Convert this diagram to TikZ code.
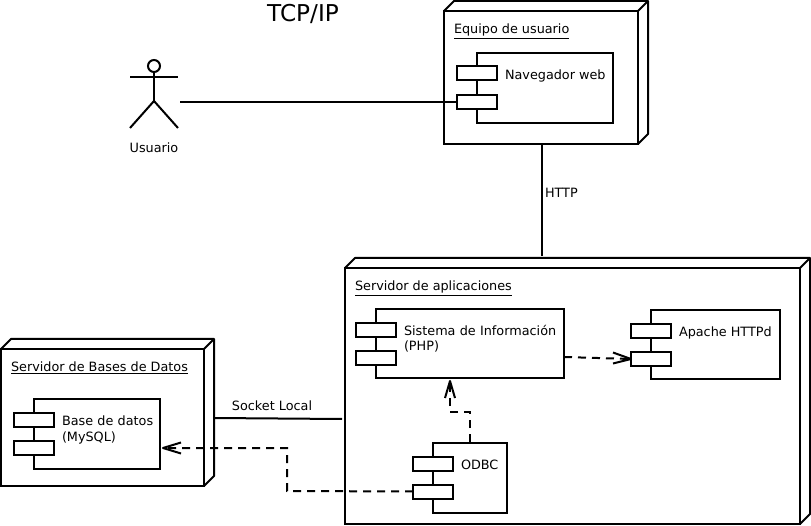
\documentclass[tikz,border=0pt]{standalone}
\usepackage{fontspec}
\setmainfont{DejaVu Sans}
\usetikzlibrary{arrows.meta,positioning}
\newcommand{\rectnode}[6][]{% style, name, x1,y1,x2,y2
  \pgfmathsetmacro{\rw}{#5-#3}\pgfmathsetmacro{\rh}{#6-#4}
  \pgfmathsetmacro{\rx}{(#3+#5)/2}\pgfmathsetmacro{\ry}{(#4+#6)/2}
  \node[rectbox,#1,minimum width=\rw pt,minimum height=\rh pt] (#2) at (\rx,\ry) {};}
\newcommand{\devnode}[5]{% name,x1,y1,x2,y2 with 10 depth
  \rectnode{#1}{#2}{#3}{#4}{#5}
  \draw[wire,line join=round] (#1.north west) -- ++(10,-10) -| ([xshift=10pt,yshift=10pt]#1.south east) -- (#1.south east);
  \draw[wire] (#1.north east) -- ++(10,-10);}
\newcommand{\compnode}[7]{% name,x1,y1,x2,y2,tab1y,tab2y
  \rectnode{#1}{#2}{#3}{#4}{#5}
  \pgfmathsetmacro{\tl}{#2-20}\pgfmathsetmacro{\tr}{#2+20}
  \pgfmathsetmacro{\ta}{#6+14}\pgfmathsetmacro{\tb}{#7+14}
  \rectnode{#1a}{\tl}{#6}{\tr}{\ta}
  \rectnode{#1b}{\tl}{#7}{\tr}{\tb}}
\tikzset{
  x=1pt,y=-1pt,
  rectbox/.style={draw=black,fill=white,line width=2pt,inner sep=0pt,outer sep=0pt},
  wire/.style={draw=black,line width=2pt},
  dep/.style={wire,dash pattern=on 8pt off 6pt},
  chev/.style={draw=black,line width=2pt,line join=round},
  lbl/.style={font=\fontsize{12.8}{15.5}\selectfont,inner sep=0pt,outer sep=0pt,text=black,align=left},
}
\begin{document}
\begin{tikzpicture}
\useasboundingbox (0,0) rectangle (811,526);
\fill[white] (0,0) rectangle (811,526);
\node[font=\fontsize{23.2}{28}\selectfont,inner sep=0pt] (title) at (303,14) {TCP/IP};

% actor
\node[circle,draw=black,line width=2pt,minimum size=12pt,inner sep=0pt,outer sep=0pt] (head) at (154,66) {};
\coordinate (hip) at (154,101);
\coordinate (armL) at (130,77);
\coordinate (armR) at (178,77);
\coordinate (legL) at (130,128);
\coordinate (legR) at (178,128);
\draw[wire] (head.south) -- (hip);
\draw[wire] (armL) -- (armR);
\draw[wire] (legL) -- (hip) -- (legR);
\node[lbl,anchor=center] (usr) at (154,148) {Usuario};
\coordinate (usrport) at (180,102);

% devices
\devnode{equipo}{444}{11}{638}{144}
\node[lbl,anchor=base west] (equipot) at (454,33.7) {\underline{Equipo de usuario}};
\compnode{nav}{477}{53}{613}{123}{66}{95}
\node[lbl,anchor=base west] (navt) at (505,79.5) {Navegador web};

\devnode{srv}{345}{268}{800}{524}
\node[lbl,anchor=base west] (srvt) at (355,290.7) {\underline{Servidor de aplicaciones}};
\compnode{si}{376}{309}{564}{378}{323}{351}
\node[lbl,anchor=base west,text width=170pt] (sit) at (404,335.5) {Sistema de Información\\(PHP)};
\compnode{apache}{651}{310}{780}{379}{324}{352}
\node[lbl,anchor=base west] (apachet) at (679,336.5) {Apache HTTPd};
\compnode{odbc}{433}{442.5}{507}{512.5}{456.5}{484.5}
\node[lbl,anchor=base west] (odbct) at (461,469) {ODBC};

\devnode{bd}{1}{349}{204}{486}
\node[lbl,anchor=base west] (bdt) at (11,371.5) {\underline{Servidor de Bases de Datos}};
\compnode{base}{34}{399}{160}{469}{413}{441}
\node[lbl,anchor=base west,text width=100pt] (baset) at (62,425.5) {Base de datos\\(MySQL)};

% connectors
\draw[wire] (usrport) -- (navb.west);
\coordinate (httpEnd) at (542,256);
\draw[wire] (equipo.south -| httpEnd) -- (httpEnd);
\node[lbl,anchor=base west] (httpl) at (545,197.7) {HTTP};
\coordinate (sockA) at (214,418);
\coordinate (sockB) at (342,419);
\draw[wire] (sockA) -- (sockB);
\node[lbl,anchor=base] (sockl) at (272,410) {Socket Local};

\coordinate (d1) at (564,357);
\draw[dep] (d1) -- (apacheb.west);
\draw[chev] (613,352.5) -- (apacheb.west) -- (613,363.5);
\coordinate (o1) at (470,442);
\coordinate (o2) at (470,412);
\coordinate (o3) at (450,412);
\coordinate (o4) at (450,381);
\draw[dep] (o1) -- (o2) -- (o3) -- (o4);
\draw[chev] (445,398) -- (o4) -- (455,398);
\coordinate (b1) at (287,491);
\coordinate (b2) at (287,448);
\coordinate (b3) at (163,448);
\draw[dep] (odbcb.west) -- (b1) -- (b2) -- (b3);
\draw[chev] (181,442.5) -- (b3) -- (181,453.5);
\end{tikzpicture}
\end{document}
